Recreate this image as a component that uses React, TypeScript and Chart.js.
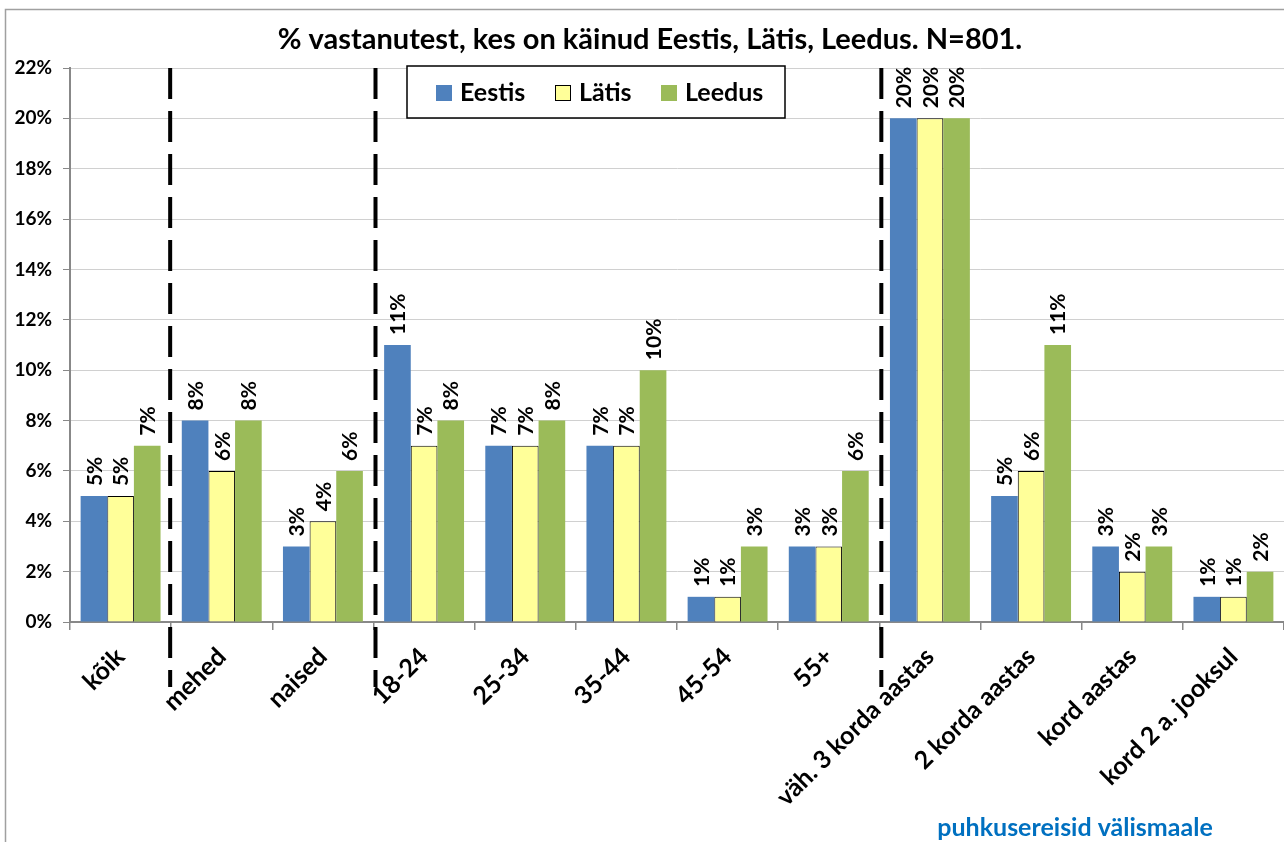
import React, { useEffect, useRef } from 'react';
import { Chart, registerables } from 'chart.js';

Chart.register(...registerables);

const categories = [
  'kõik', 'mehed', 'naised', '18-24', '25-34', '35-44', '45-54', '55+',
  'väh. 3 korda aastas', '2 korda aastas', 'kord aastas', 'kord 2 a. jooksul',
];
const eestis = [5, 8, 3, 11, 7, 7, 1, 3, 20, 5, 3, 1];
const latis = [5, 6, 4, 7, 7, 7, 1, 3, 20, 6, 2, 1];
const leedus = [7, 8, 6, 8, 8, 10, 3, 6, 20, 11, 3, 2];
const seriesNames = ['Eestis', 'Lätis', 'Leedus'];
const yMin = 0;
const yMax = 22;
const yStep = 2;
const separatorsAfter = [0, 2, 7];
const titleText = '% vastanutest, kes on käinud Eestis, Lätis, Leedus. N=801.';
const noteText = 'puhkusereisid välismaale';

const FONT = 'Lato, "Open Sans", sans-serif';
const COLORS = ['#4F81BD', '#FFFF99', '#9BBB59'];

const framePlugin = {
  id: 'frame',
  beforeDraw(chart: any) {
    const ctx = chart.ctx;
    ctx.save();
    ctx.fillStyle = '#fff';
    ctx.fillRect(0, 0, chart.width, chart.height);
    ctx.strokeStyle = '#a0a0a0';
    ctx.lineWidth = 1.5;
    ctx.beginPath();
    ctx.moveTo(5.5, chart.height + 2);
    ctx.lineTo(5.5, 9.5);
    ctx.lineTo(chart.width + 2, 9.5);
    ctx.stroke();
    ctx.restore();
  },
};

const dividerPlugin = {
  id: 'dividers',
  afterDatasetsDraw(chart: any) {
    const ctx = chart.ctx;
    const xs = chart.scales.x;
    const top = chart.chartArea.top;
    ctx.save();
    ctx.strokeStyle = '#000';
    ctx.lineWidth = 4;
    ctx.setLineDash([31, 12]);
    separatorsAfter.forEach((i) => {
      const x = (xs.getPixelForValue(i) + xs.getPixelForValue(i + 1)) / 2 + (i === 0 ? -1 : 2);
      ctx.beginPath();
      ctx.moveTo(x, top);
      ctx.lineTo(x, 687);
      ctx.stroke();
    });
    ctx.restore();
  },
};

const labelPlugin = {
  id: 'barLabels',
  afterDatasetsDraw(chart: any) {
    const ctx = chart.ctx;
    ctx.save();
    ctx.fillStyle = '#000';
    ctx.font = `bold 21px ${FONT}`;
    ctx.textAlign = 'left';
    ctx.textBaseline = 'middle';
    chart.data.datasets.forEach((ds: any, di: number) => {
      const meta = chart.getDatasetMeta(di);
      meta.data.forEach((bar: any, i: number) => {
        ctx.save();
        ctx.translate(bar.x, bar.y - 10);
        ctx.rotate(-Math.PI / 2);
        ctx.fillText(ds.data[i] + '%', 0, 1);
        ctx.restore();
      });
    });
    ctx.restore();
  },
};

const textPlugin = {
  id: 'texts',
  afterDraw(chart: any) {
    const ctx = chart.ctx;
    ctx.save();
    // title
    ctx.fillStyle = '#000';
    ctx.font = `bold 29px ${FONT}`;
    ctx.textAlign = 'center';
    ctx.textBaseline = 'middle';
    ctx.fillText(titleText, 650, 40);
    // note
    ctx.fillStyle = '#0070C0';
    ctx.font = `bold 25px ${FONT}`;
    ctx.fillText(noteText, 1075, 828);
    // legend
    const bx = 407, by = 66, bw = 378, bh = 52;
    ctx.fillStyle = '#fff';
    ctx.fillRect(bx, by, bw, bh);
    ctx.strokeStyle = '#000';
    ctx.lineWidth = 1.5;
    ctx.strokeRect(bx, by, bw, bh);
    const boxX = [436, 555, 661];
    ctx.font = `bold 25px ${FONT}`;
    ctx.textAlign = 'left';
    chart.data.datasets.forEach((ds: any, i: number) => {
      ctx.fillStyle = ds.backgroundColor;
      ctx.fillRect(boxX[i], 85, 16, 16);
      if (ds.borderWidth) {
        ctx.strokeStyle = '#000';
        ctx.lineWidth = 1;
        ctx.strokeRect(boxX[i] + 0.5, 85.5, 15, 15);
      }
      ctx.fillStyle = '#000';
      ctx.fillText(ds.label, boxX[i] + 24, 93);
    });
    ctx.restore();
  },
};

export default function App() {
  const ref = useRef<HTMLCanvasElement | null>(null);
  useEffect(() => {
    document.body.style.margin = '0';
    if (!ref.current) return;
    const values = [eestis, latis, leedus];
    const chart = new Chart(ref.current, {
      type: 'bar',
      data: {
        labels: categories,
        datasets: values.map((v, i) => ({
          label: seriesNames[i],
          data: v,
          backgroundColor: COLORS[i],
          borderColor: '#000',
          borderWidth: i === 1 ? 1 : 0,
          borderSkipped: 'start',
          barPercentage: 1,
          categoryPercentage: 0.79,
        })),
      },
      options: {
        responsive: false,
        animation: false,
        layout: { padding: { top: 68, right: 0, bottom: 0, left: 0 } },
        plugins: {
          legend: { display: false },
          title: { display: false },
          tooltip: { enabled: false },
        },
        scales: {
          x: {
            grid: {
              display: true,
              drawOnChartArea: false,
              offset: true,
              tickLength: 8,
              color: '#888',
              lineWidth: 1.5,
            },
            border: { color: '#888', width: 2 },
            ticks: {
              autoSkip: false,
              maxRotation: 45,
              minRotation: 45,
              padding: 12,
              color: '#000',
              font: { family: FONT, weight: 'bold', size: 25 },
            },
            afterFit: (s: any) => {
              s.height = 220;
            },
          },
          y: {
            min: yMin,
            max: yMax,
            ticks: {
              stepSize: yStep,
              callback: (v: any) => v + '%',
              padding: 11,
              color: '#000',
              font: { family: FONT, weight: 'bold', size: 19 },
            },
            grid: { color: '#d0d0d0', tickColor: '#888', tickLength: 7, lineWidth: 1 },
            border: { color: '#888', width: 2 },
            afterFit: (s: any) => {
              s.width = 70;
            },
          },
        },
      },
      plugins: [framePlugin, dividerPlugin, labelPlugin, textPlugin],
    } as any);
    return () => chart.destroy();
  }, []);
  return (
    <div style={{ width: 1284, height: 842, overflow: 'hidden' }}>
      <canvas ref={ref} width={1284} height={842} style={{ display: 'block' }} />
    </div>
  );
}
